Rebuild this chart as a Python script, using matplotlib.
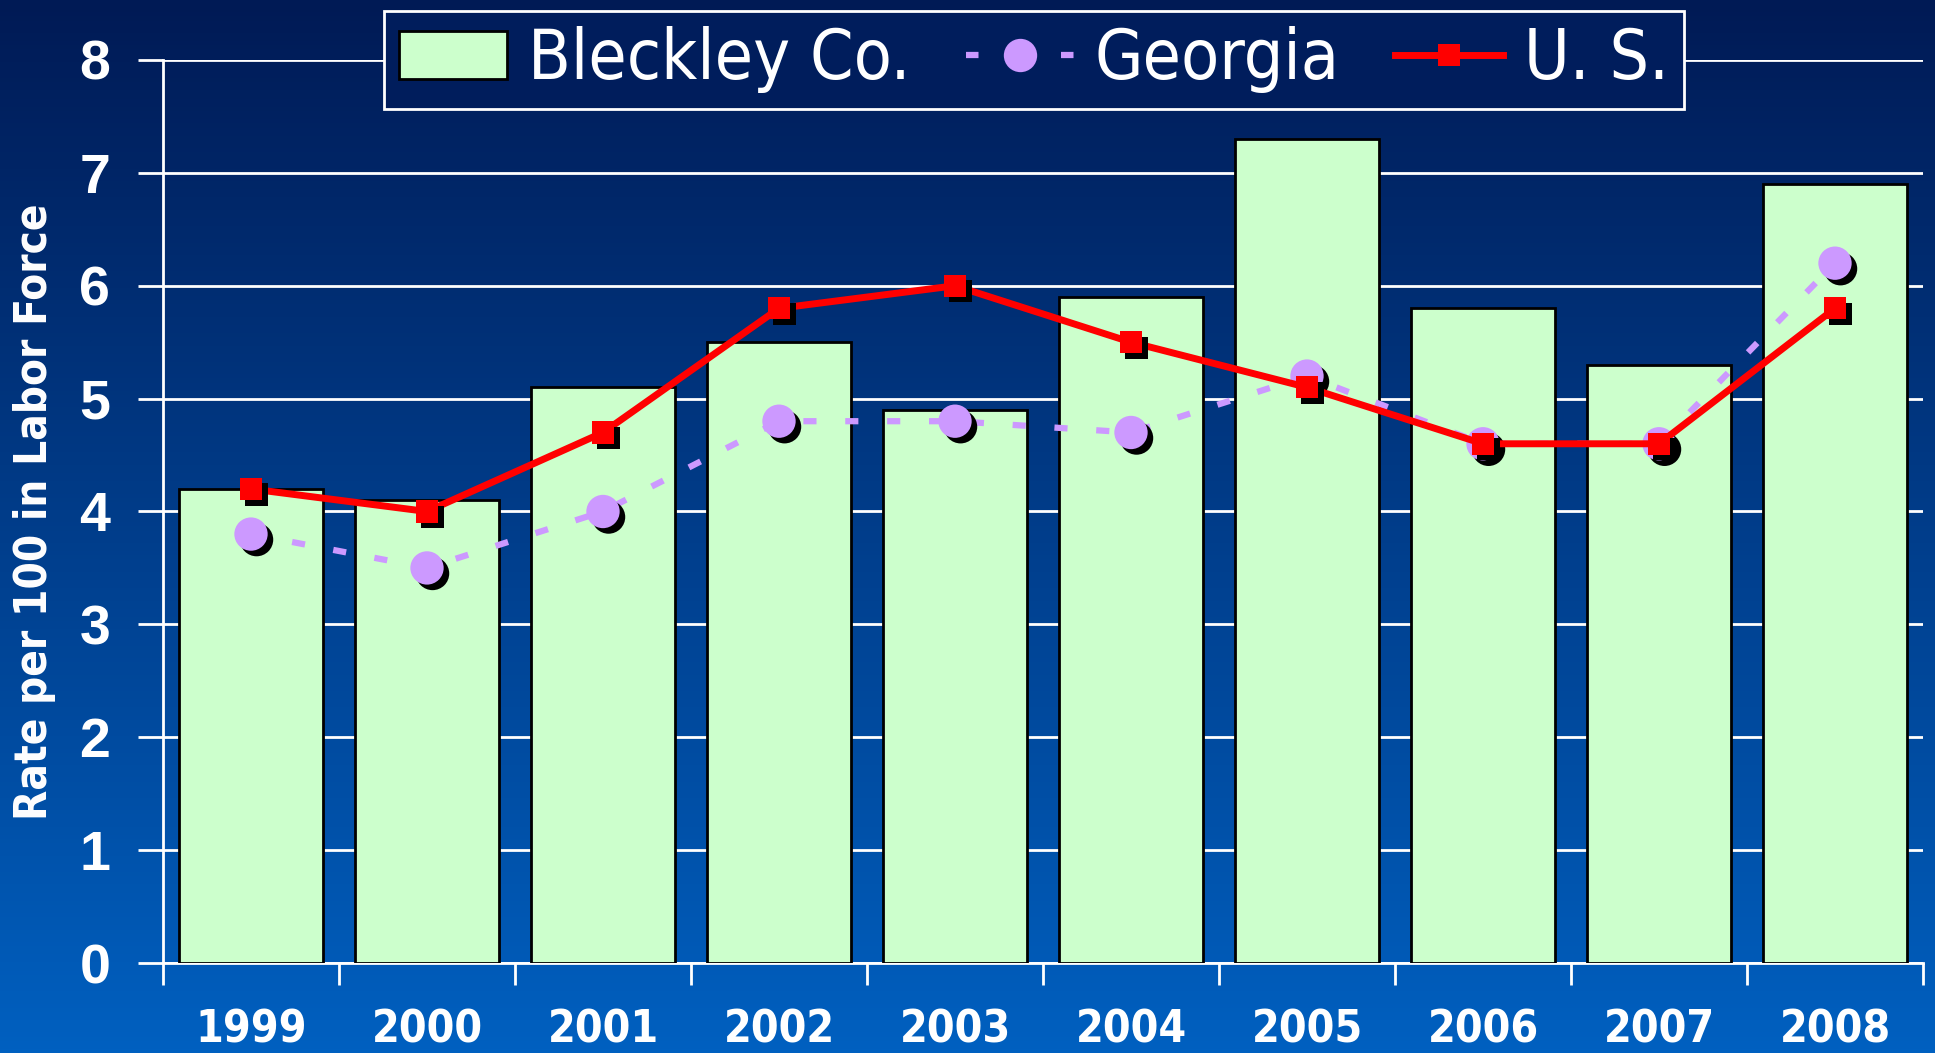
import numpy as np
import matplotlib
matplotlib.use('Agg')
import matplotlib.pyplot as plt
import matplotlib.patheffects as pe
from matplotlib.patches import Patch
from matplotlib.lines import Line2D

# datos
years = ['1999', '2000', '2001', '2002', '2003', '2004', '2005', '2006', '2007', '2008']
bleckley = [4.2, 4.1, 5.1, 5.5, 4.9, 5.9, 7.3, 5.8, 5.3, 6.9]
georgia = [3.8, 3.5, 4.0, 4.8, 4.8, 4.7, 5.2, 4.6, 4.6, 6.2]
us = [4.2, 4.0, 4.7, 5.8, 6.0, 5.5, 5.1, 4.6, 4.6, 5.8]

narrow = ['Liberation Sans Narrow', 'DejaVu Sans']
bold = ['Liberation Sans', 'DejaVu Sans']

fig = plt.figure(figsize=(19.35, 10.53), dpi=100)

# fondo degradado
bg = fig.add_axes([0, 0, 1, 1], zorder=-10)
top = np.array([0, 26, 85]) / 255
bot = np.array([0, 96, 192]) / 255
s = np.linspace(0, 1, 256)[:, None]
grad = top[None, :] * (1 - s) + bot[None, :] * s
bg.imshow(grad[:, None, :], aspect='auto', extent=[0, 1, 0, 1])
bg.axis('off')

ax = fig.add_axes([163/1935, 1 - 963/1053, 1760/1935, 903/1053])
ax.patch.set_alpha(0)
x = np.arange(len(years))

ax.bar(x, bleckley, width=0.82, color='#ccffcc', edgecolor='black', linewidth=2, zorder=3)

shadow = [pe.SimplePatchShadow(offset=(4, -4), shadow_rgbFace='black', alpha=1), pe.Normal()]

ax.plot(x, georgia, color='#cc99ff', lw=4.5, ls=(0, (2.1, 4.6)), zorder=4)
ax.plot(x, georgia, ls='none', marker='o', ms=24, mfc='#cc99ff', mew=0, zorder=5, path_effects=shadow)
ax.plot(x, us, color='red', lw=5, zorder=6)
ax.plot(x, us, ls='none', marker='s', ms=16, mfc='red', mew=0, zorder=7, path_effects=shadow)

ax.set_xlim(-0.5, 9.5)
ax.set_ylim(0, 8)
ax.set_yticks(range(9))
ax.grid(axis='y', color='white', lw=2, zorder=1)
ax.set_axisbelow(True)
for sp in ['top', 'right']:
    ax.spines[sp].set_visible(False)
ax.spines['left'].set_color('white')
ax.spines['bottom'].set_color('white')
ax.spines['left'].set_linewidth(2)
ax.spines['bottom'].set_linewidth(2)

# ticks en los limites de categoria
ax.set_xticks(np.arange(-0.5, 10, 1))
ax.set_xticklabels([])
ax.set_xticks(x, minor=True)
ax.set_xticklabels(years, minor=True, fontsize=32, fontweight='bold', color='white',
                   family=narrow, fontstretch='condensed')
ax.tick_params(axis='x', which='major', length=16, width=2, color='white', direction='out')
ax.tick_params(axis='x', which='minor', length=0, pad=33)
ax.tick_params(axis='y', length=18, width=2, color='white', pad=20)
for lab in ax.get_yticklabels():
    lab.set_fontsize(40)
    lab.set_fontweight('bold')
    lab.set_color('white')
    lab.set_family(bold)

ax.set_ylabel('Rate per 100 in Labor Force', fontsize=31.5, fontweight='bold', color='white',
              family=narrow, fontstretch='condensed', labelpad=17)

handles = [
    Patch(facecolor='#ccffcc', edgecolor='black', linewidth=2),
    Line2D([], [], color='#cc99ff', lw=4.5, ls=(0, (2, 13.2)), marker='o', ms=24, mew=0),
    Line2D([], [], color='red', lw=5, marker='s', ms=16, mew=0),
]
leg = fig.legend(handles, ['Bleckley Co.', 'Georgia', 'U. S.'], loc='upper center',
                 bbox_to_anchor=(1034/1935, 1 - 11/1053), ncol=3, frameon=True,
                 prop={'family': narrow, 'size': 50, 'stretch': 'condensed'}, labelcolor='white',
                 fancybox=False, handlelength=1.55, handleheight=0.7, columnspacing=0.8,
                 handletextpad=0.3, borderpad=0.22, borderaxespad=0)
leg.get_frame().set_facecolor('#001d5c')
leg.get_frame().set_edgecolor('white')
leg.get_frame().set_linewidth(2)
leg.get_frame().set_alpha(1)

fig.savefig('out.png', dpi=100)
